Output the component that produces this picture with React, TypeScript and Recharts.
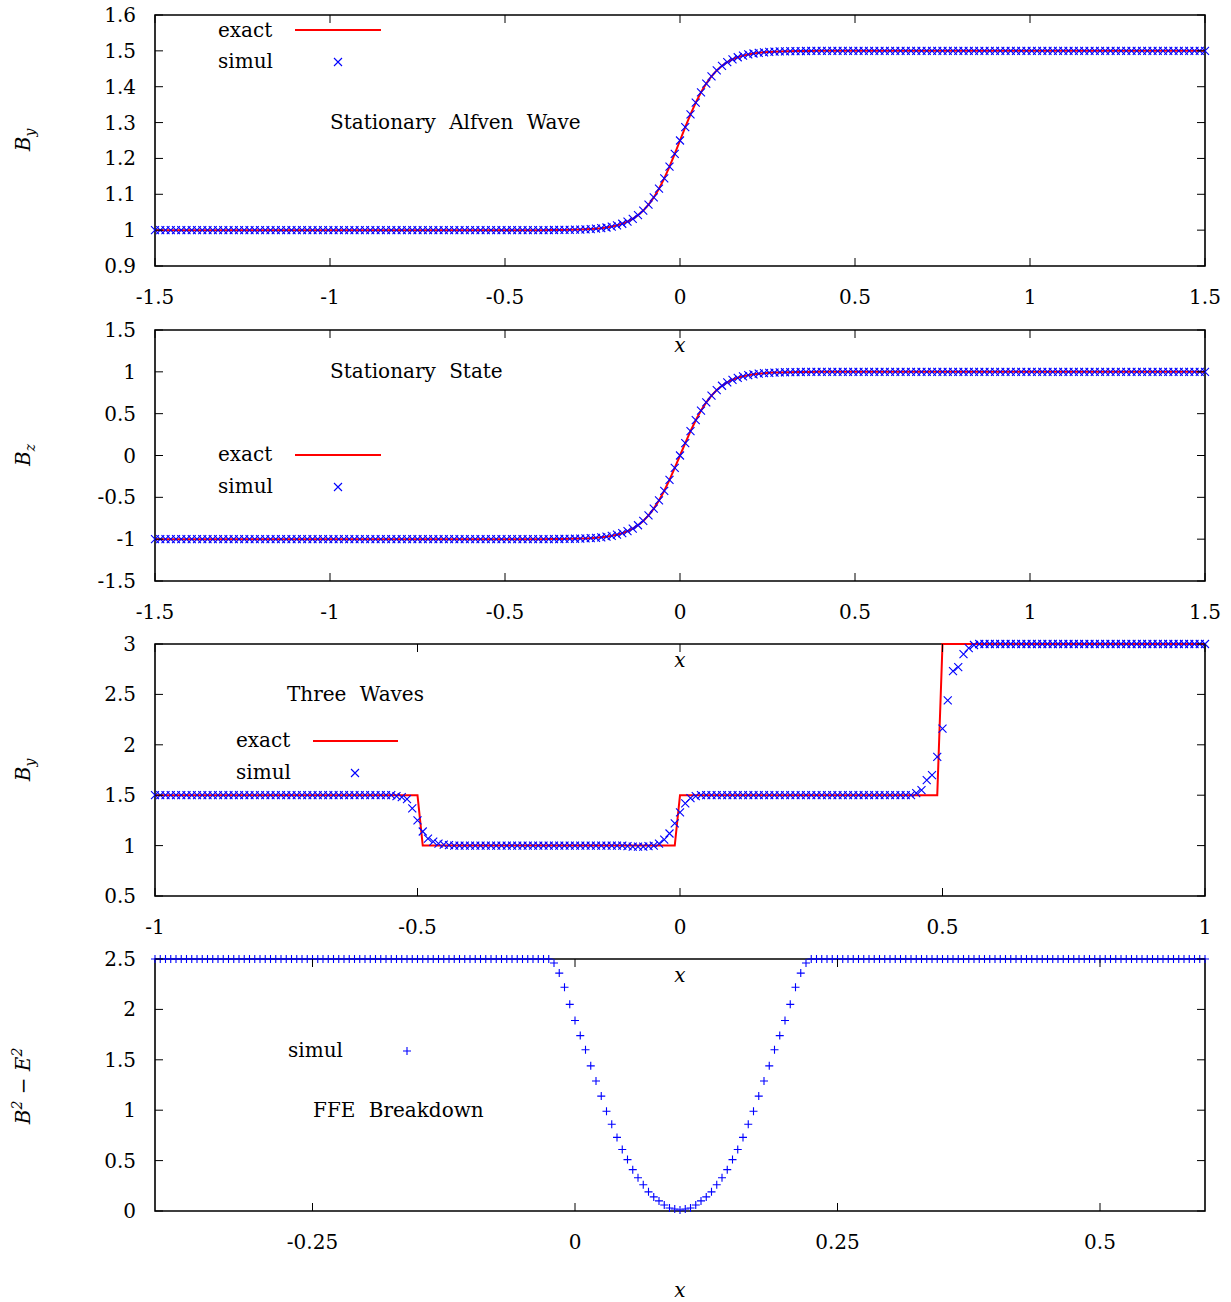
import React from 'react';
import { ComposedChart, Line, Scatter, XAxis, YAxis, ReferenceArea } from 'recharts';

// ---------------- data ----------------
// Panel 1: Stationary Alfven Wave (grid x = -1.5 + i*0.015)
const alfvenX0 = -1.5;
const alfvenDx = 0.015;
const alfvenLowLevel = 1.0;
const alfvenLowCount = 75;
const alfvenFront = [1.0003, 1.0004, 1.0005, 1.0007, 1.0009, 1.0012, 1.0016, 1.0022, 1.003, 1.0041, 1.0055, 1.0074, 1.0099, 1.0133, 1.0178, 1.0237, 1.0315, 1.0416, 1.0545, 1.0709, 1.0912, 1.1157, 1.1445, 1.1772, 1.2128, 1.25, 1.2872, 1.3228, 1.3555, 1.3843, 1.4088, 1.4291, 1.4455, 1.4584, 1.4685, 1.4763, 1.4822, 1.4867, 1.4901, 1.4926, 1.4945, 1.4959, 1.497, 1.4978, 1.4984, 1.4988, 1.4991, 1.4993, 1.4995, 1.4996, 1.4997];
const alfvenHighLevel = 1.5;
const alfvenHighCount = 75;
const alfvenXTicks = [-1.5, -1, -0.5, 0, 0.5, 1, 1.5];
const alfvenYTicks = [0.9, 1, 1.1, 1.2, 1.3, 1.4, 1.5, 1.6];

// Panel 2: Stationary State (grid x = -1.5 + i*0.015)
const stateX0 = -1.5;
const stateDx = 0.015;
const stateLowLevel = -1;
const stateLowCount = 75;
const stateFront = [-0.9989, -0.9985, -0.998, -0.9973, -0.9964, -0.9951, -0.9934, -0.991, -0.9879, -0.9837, -0.978, -0.9705, -0.9603, -0.9468, -0.9289, -0.9051, -0.8741, -0.8337, -0.7818, -0.7163, -0.6351, -0.537, -0.4218, -0.2913, -0.1489, 0, 0.1489, 0.2913, 0.4218, 0.537, 0.6351, 0.7163, 0.7818, 0.8337, 0.8741, 0.9051, 0.9289, 0.9468, 0.9603, 0.9705, 0.978, 0.9837, 0.9879, 0.991, 0.9934, 0.9951, 0.9964, 0.9973, 0.998, 0.9985, 0.9989];
const stateHighLevel = 1;
const stateHighCount = 75;
const stateXTicks = [-1.5, -1, -0.5, 0, 0.5, 1, 1.5];
const stateYTicks = [-1.5, -1, -0.5, 0, 0.5, 1, 1.5];

// Panel 3: Three Waves (grid x = -1 + i*0.01)
const threeX0 = -1;
const threeDx = 0.01;
const threeLeftLevel = 1.5;
const threeLeftCount = 45;
const threeFrontA = [1.5, 1.49, 1.48, 1.46, 1.37, 1.25, 1.14, 1.07, 1.04, 1.02, 1.01, 1.005];
const threeMidLevel = 1.0;
const threeMidCount = 33;
const threeFrontB = [0.995, 0.99, 0.99, 0.99, 0.995, 1.0, 1.02, 1.06, 1.12, 1.22, 1.33, 1.42, 1.47, 1.49, 1.5];
const threeUpperLevel = 1.5;
const threeUpperCount = 39;
const threeFrontC = [1.5, 1.52, 1.55, 1.65, 1.7, 1.88, 2.16, 2.44, 2.73, 2.77, 2.9, 2.96, 2.99];
const threeRightLevel = 3.0;
const threeRightCount = 44;
const threeExactX = [-1, -0.5, -0.49, -0.01, 0, 0.49, 0.5, 1];
const threeExactY = [1.5, 1.5, 1, 1, 1.5, 1.5, 3, 3];
const threeXTicks = [-1, -0.5, 0, 0.5, 1];
const threeYTicks = [0.5, 1, 1.5, 2, 2.5, 3];

// Panel 4: FFE Breakdown (grid x = -0.4 + i*0.005)
const ffeX0 = -0.4;
const ffeDx = 0.005;
const ffeLevel = 2.5;
const ffeLeftCount = 75;
const ffeDip = [2.5, 2.46, 2.36, 2.22, 2.05, 1.89, 1.74, 1.6, 1.44, 1.29, 1.14, 0.99, 0.86, 0.73, 0.61, 0.51, 0.41, 0.33, 0.26, 0.19, 0.14, 0.1, 0.06, 0.03, 0.02, 0.01, 0.02, 0.03, 0.06, 0.1, 0.14, 0.19, 0.26, 0.33, 0.41, 0.51, 0.61, 0.73, 0.86, 0.99, 1.14, 1.29, 1.44, 1.6, 1.74, 1.89, 2.05, 2.22, 2.36, 2.46, 2.5];
const ffeRightCount = 75;
const ffeXTicks = [-0.25, 0, 0.25, 0.5];
const ffeYTicks = [0, 0.5, 1, 1.5, 2, 2.5];

// ---------------- helpers ----------------
const plateau = (level: number, count: number) => Array.from({ length: count }, () => level);
const onGrid = (x0: number, dx: number, ys: number[]) => ys.map((y, i) => ({ x: +(x0 + i * dx).toFixed(4), y }));
const pairs = (xs: number[], ys: number[]) => xs.map((x, i) => ({ x, y: ys[i] }));

const alfvenSimul = onGrid(alfvenX0, alfvenDx, [...plateau(alfvenLowLevel, alfvenLowCount), ...alfvenFront, ...plateau(alfvenHighLevel, alfvenHighCount)]);
const alfvenExact = alfvenSimul;
const stateSimul = onGrid(stateX0, stateDx, [...plateau(stateLowLevel, stateLowCount), ...stateFront, ...plateau(stateHighLevel, stateHighCount)]);
const stateExact = stateSimul;
const threeSimul = onGrid(threeX0, threeDx, [
  ...plateau(threeLeftLevel, threeLeftCount), ...threeFrontA,
  ...plateau(threeMidLevel, threeMidCount), ...threeFrontB,
  ...plateau(threeUpperLevel, threeUpperCount), ...threeFrontC,
  ...plateau(threeRightLevel, threeRightCount),
]);
const threeExact = pairs(threeExactX, threeExactY);
const ffeSimul = onGrid(ffeX0, ffeDx, [...plateau(ffeLevel, ffeLeftCount), ...ffeDip, ...plateau(ffeLevel, ffeRightCount)]);

// ---------------- styling ----------------
const FONT = "'DejaVu Serif', serif";
const FS = 20;
const CHART_W = 1231;
const CHART_H = 360;
const PLOT_LEFT = 155;
const PLOT_RIGHT = 1205;
const PLOT_TOP = 15;
const TICK_LEN = 8;
const RED = '#ff0000';
const BLUE = '#0000ff';
const MS = 4;

const Cross = ({ cx, cy }: any) => (
  <path d={`M${cx - MS},${cy - MS}L${cx + MS},${cy + MS}M${cx - MS},${cy + MS}L${cx + MS},${cy - MS}`} stroke={BLUE} strokeWidth={1.1} fill="none" />
);
const Plus = ({ cx, cy }: any) => (
  <path d={`M${cx - MS},${cy}L${cx + MS},${cy}M${cx},${cy - MS}L${cx},${cy + MS}`} stroke={BLUE} strokeWidth={1.1} fill="none" />
);

const T = (props: any) => <text fontFamily={FONT} fontSize={FS} fill="#000" {...props} />;

type PanelProps = {
  top: number;
  plotH: number;
  xDomain: [number, number];
  yDomain: [number, number];
  xTicks: number[];
  yTicks: number[];
  exact?: { x: number; y: number }[];
  simul: { x: number; y: number }[];
  marker: 'cross' | 'plus';
  yTitle: React.ReactNode;
  children?: React.ReactNode;
};

function Panel({ top, plotH, xDomain, yDomain, xTicks, yTicks, exact, simul, marker, yTitle, children }: PanelProps) {
  const plotBottom = PLOT_TOP + plotH;
  const xAxisH = 30;
  const marginBottom = CHART_H - PLOT_TOP - plotH - xAxisH;

  const XTick = (p: any) => (
    <g>
      <line x1={p.x} x2={p.x} y1={plotBottom} y2={plotBottom - TICK_LEN} stroke="#000" strokeWidth={1} />
      <line x1={p.x} x2={p.x} y1={PLOT_TOP} y2={PLOT_TOP + TICK_LEN} stroke="#000" strokeWidth={1} />
      <T x={p.x} y={plotBottom + 38} textAnchor="middle">{String(p.payload.value)}</T>
    </g>
  );
  const YTick = (p: any) => (
    <g>
      <line x1={PLOT_LEFT} x2={PLOT_LEFT + TICK_LEN} y1={p.y} y2={p.y} stroke="#000" strokeWidth={1} />
      <line x1={PLOT_RIGHT} x2={PLOT_RIGHT - TICK_LEN} y1={p.y} y2={p.y} stroke="#000" strokeWidth={1} />
      <T x={PLOT_LEFT - 19} y={p.y + 7} textAnchor="end">{String(p.payload.value)}</T>
    </g>
  );

  return (
    <div style={{ position: 'absolute', left: 0, top, width: CHART_W, height: CHART_H }}>
      <ComposedChart width={CHART_W} height={CHART_H} margin={{ top: PLOT_TOP, right: CHART_W - PLOT_RIGHT, bottom: marginBottom, left: 0 }}>
        <XAxis type="number" dataKey="x" domain={xDomain} ticks={xTicks} interval={0} height={xAxisH} tickLine={false} axisLine={false} tick={XTick} />
        <YAxis type="number" domain={yDomain} ticks={yTicks} interval={0} width={PLOT_LEFT} tickLine={false} axisLine={false} tick={YTick} />
        <ReferenceArea x1={xDomain[0]} x2={xDomain[1]} y1={yDomain[0]} y2={yDomain[1]} fill="none" fillOpacity={0} stroke="#000" strokeWidth={1.6} />
        {exact && (
          <Line data={exact} dataKey="y" type="linear" stroke={RED} strokeWidth={2} dot={false} activeDot={false} isAnimationActive={false} />
        )}
        <Scatter data={simul} dataKey="y" shape={marker === 'cross' ? Cross : Plus} isAnimationActive={false} />
        <g>
          {yTitle}
          <T x={(PLOT_LEFT + PLOT_RIGHT) / 2} y={plotBottom + 86} textAnchor="middle" fontStyle="italic">x</T>
          {children}
        </g>
      </ComposedChart>
    </div>
  );
}

const YTitleSub = ({ main, sub, cy }: { main: string; sub: string; cy: number }) => (
  <text transform={`translate(30,${cy}) rotate(-90)`} textAnchor="middle" fontFamily={FONT} fontSize={FS} fontStyle="italic" fill="#000">
    {main}
    <tspan fontSize={14} dy={5}>{sub}</tspan>
  </text>
);

const WS = 7;

export default function App() {
  return (
    <div style={{ position: 'absolute', left: 0, top: 0, width: 1231, height: 1302, background: '#fff' }}>
      <Panel top={0} plotH={251} xDomain={[-1.5, 1.5]} yDomain={[0.9, 1.6]} xTicks={alfvenXTicks} yTicks={alfvenYTicks}
        exact={alfvenExact} simul={alfvenSimul} marker="cross" yTitle={<YTitleSub main="B" sub="y" cy={140} />}>
        <T x={218} y={37}>exact</T>
        <line x1={295} x2={381} y1={30} y2={30} stroke={RED} strokeWidth={2} />
        <T x={218} y={68}>simul</T>
        <Cross cx={338} cy={62} />
        <T x={330} y={129} style={{ wordSpacing: WS }}>Stationary Alfven Wave</T>
      </Panel>
      <Panel top={315} plotH={251} xDomain={[-1.5, 1.5]} yDomain={[-1.5, 1.5]} xTicks={stateXTicks} yTicks={stateYTicks}
        exact={stateExact} simul={stateSimul} marker="cross" yTitle={<YTitleSub main="B" sub="z" cy={140} />}>
        <T x={330} y={63} style={{ wordSpacing: WS }}>Stationary State</T>
        <T x={218} y={146}>exact</T>
        <line x1={295} x2={381} y1={140} y2={140} stroke={RED} strokeWidth={2} />
        <T x={218} y={178}>simul</T>
        <Cross cx={338} cy={172} />
      </Panel>
      <Panel top={629} plotH={252} xDomain={[-1, 1]} yDomain={[0.5, 3]} xTicks={threeXTicks} yTicks={threeYTicks}
        exact={threeExact} simul={threeSimul} marker="cross" yTitle={<YTitleSub main="B" sub="y" cy={141} />}>
        <T x={287} y={72} style={{ wordSpacing: WS }}>Three Waves</T>
        <T x={236} y={118}>exact</T>
        <line x1={313} x2={398} y1={112} y2={112} stroke={RED} strokeWidth={2} />
        <T x={236} y={150}>simul</T>
        <Cross cx={355} cy={144} />
      </Panel>
      <Panel top={944} plotH={252} xDomain={[-0.4, 0.6]} yDomain={[0, 2.5]} xTicks={ffeXTicks} yTicks={ffeYTicks}
        simul={ffeSimul} marker="plus"
        yTitle={
          <text transform="translate(30,142) rotate(-90)" textAnchor="middle" fontFamily={FONT} fontSize={FS} fontStyle="italic" fill="#000">
            B<tspan fontSize={14} dy={-8}>2</tspan>
            <tspan dy={8} fontStyle="normal"> − </tspan>
            E<tspan fontSize={14} dy={-8}>2</tspan>
          </text>
        }>
        <T x={288} y={113}>simul</T>
        <Plus cx={407} cy={107} />
        <T x={313} y={173} style={{ wordSpacing: WS }}>FFE Breakdown</T>
      </Panel>
    </div>
  );
}
